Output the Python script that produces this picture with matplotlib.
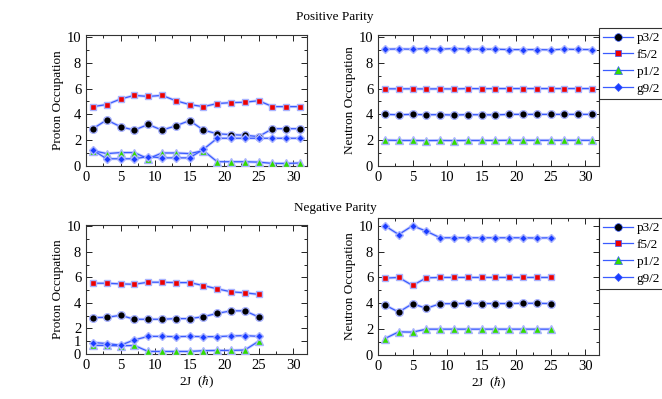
import matplotlib
matplotlib.use("Agg")
import matplotlib.pyplot as plt
from matplotlib.ticker import MultipleLocator
from matplotlib.lines import Line2D

plt.rcParams['font.family'] = ['Liberation Serif', 'DejaVu Serif']
plt.rcParams['mathtext.fontset'] = 'stix'

# ---- data ----
x_pos = [1, 3, 5, 7, 9, 11, 13, 15, 17, 19, 21, 23, 25, 27, 29, 31]
x_neg = [1, 3, 5, 7, 9, 11, 13, 15, 17, 19, 21, 23, 25]
labels = ['p3/2', 'f5/2', 'p1/2', 'g9/2']

pos_prot_p32 = [2.89, 3.57, 3.04, 2.78, 3.22, 2.78, 3.11, 3.52, 2.78, 2.50, 2.43, 2.38, 2.28, 2.89, 2.89, 2.89]
pos_prot_f52 = [4.60, 4.76, 5.19, 5.47, 5.39, 5.47, 5.06, 4.76, 4.60, 4.84, 4.91, 4.94, 5.06, 4.60, 4.60, 4.60]
pos_prot_p12 = [1.19, 0.96, 1.04, 1.04, 0.56, 1.01, 1.01, 0.96, 1.19, 0.33, 0.33, 0.33, 0.30, 0.20, 0.20, 0.23]
pos_prot_g92 = [1.22, 0.56, 0.56, 0.56, 0.73, 0.63, 0.63, 0.63, 1.29, 2.15, 2.15, 2.15, 2.15, 2.15, 2.15, 2.15]

pos_neut_p32 = [4.00, 3.97, 4.00, 3.97, 3.98, 3.95, 3.98, 3.97, 3.96, 4.00, 4.00, 4.00, 4.00, 4.00, 4.00, 4.00]
pos_neut_f52 = [5.98, 5.98, 5.98, 5.97, 5.98, 5.97, 6.00, 5.99, 6.00, 6.00, 6.00, 6.00, 6.00, 6.00, 6.00, 6.00]
pos_neut_p12 = [2.00, 1.98, 1.98, 1.97, 1.98, 1.97, 1.98, 1.98, 1.98, 1.99, 1.99, 1.99, 1.99, 1.99, 1.99, 1.99]
pos_neut_g92 = [9.05, 9.07, 9.05, 9.10, 9.05, 9.10, 9.05, 9.05, 9.05, 9.02, 9.02, 9.02, 9.00, 9.05, 9.03, 9.02]

neg_prot_p32 = [2.85, 2.87, 3.03, 2.72, 2.72, 2.72, 2.77, 2.77, 2.92, 3.18, 3.38, 3.38, 2.90]
neg_prot_f52 = [5.54, 5.54, 5.49, 5.46, 5.62, 5.62, 5.59, 5.59, 5.36, 5.10, 4.87, 4.79, 4.67]
neg_prot_p12 = [0.67, 0.67, 0.64, 0.67, 0.20, 0.20, 0.20, 0.20, 0.26, 0.28, 0.28, 0.31, 1.00]
neg_prot_g92 = [0.90, 0.82, 0.69, 1.10, 1.38, 1.38, 1.36, 1.38, 1.36, 1.36, 1.41, 1.44, 1.38]

neg_neut_p32 = [3.87, 3.32, 3.97, 3.61, 3.97, 3.97, 4.00, 3.98, 3.98, 3.98, 4.00, 4.00, 3.98]
neg_neut_f52 = [5.95, 6.00, 5.38, 5.97, 6.00, 6.00, 6.00, 6.00, 6.00, 6.00, 6.00, 6.00, 6.00]
neg_neut_p12 = [1.27, 1.79, 1.77, 2.00, 2.00, 2.00, 2.00, 2.00, 2.00, 2.00, 2.00, 2.00, 2.00]
neg_neut_g92 = [10.00, 9.32, 10.00, 9.58, 9.07, 9.07, 9.07, 9.07, 9.07, 9.07, 9.07, 9.05, 9.07]

# ---- styles ----
LINE = '#3a5cff'
HALO = '#a9b3ff'
marker_styles = [
    dict(marker='o', markerfacecolor='black', ms=5.5),
    dict(marker='s', markerfacecolor='#ee0000', ms=5.0),
    dict(marker='^', markerfacecolor='#33dd00', ms=5.5),
    dict(marker='D', markerfacecolor='#1a3cff', ms=4.5),
]

fig = plt.figure(figsize=(6.62, 3.99), dpi=100)

W, H = 662, 399
def ax_at(l, r, t, b):
    return fig.add_axes([l / W, 1 - b / H, (r - l) / W, (b - t) / H])

ax_tl = ax_at(86, 307, 35, 166)
ax_tr = ax_at(378, 599, 35, 166)
ax_bl = ax_at(86, 307, 225, 354)
ax_br = ax_at(378, 599, 218, 355)

panels = [
    (ax_tl, x_pos, [pos_prot_p32, pos_prot_f52, pos_prot_p12, pos_prot_g92], 'Proton Occupation', 10.15),
    (ax_tr, x_pos, [pos_neut_p32, pos_neut_f52, pos_neut_p12, pos_neut_g92], 'Neutron Occupation', 10.15),
    (ax_bl, x_neg, [neg_prot_p32, neg_prot_f52, neg_prot_p12, neg_prot_g92], 'Proton Occupation', 10.1),
    (ax_br, x_neg, [neg_neut_p32, neg_neut_f52, neg_neut_p12, neg_neut_g92], 'Neutron Occupation', 10.6),
]

FS = 9
for ax, xs, series, ylab, ytop in panels:
    for ys, st, lab in zip(series, marker_styles, labels):
        ax.plot(xs, ys, color=HALO, lw=2.2, alpha=0.6, zorder=2)
        ax.plot(xs, ys, color=LINE, lw=0.9, markeredgecolor=HALO,
                markeredgewidth=1.0, label=lab, zorder=3, **st)
    ax.set_xlim(0, 32)
    ax.set_ylim(0, ytop)
    ax.xaxis.set_major_locator(MultipleLocator(5))
    ax.xaxis.set_minor_locator(MultipleLocator(2.5))
    ax.yaxis.set_minor_locator(MultipleLocator(1))
    ax.tick_params(which='both', direction='in', top=True, right=True, labelsize=FS + 1.5)
    ax.tick_params(which='major', length=4, width=0.6)
    ax.tick_params(which='minor', length=2, width=0.6)
    ax.set_ylabel(ylab, fontsize=FS + 0.5, labelpad=2)
    for s in ax.spines.values():
        s.set_linewidth(0.8)
        s.set_color('#333333')

ax_tl.set_yticks([0, 2, 4, 6, 8, 10])
ax_tr.set_yticks([0, 2, 4, 6, 8, 10])
ax_bl.set_yticks([0, 1, 2, 4, 6, 8, 10])
ax_br.set_yticks([0, 2, 4, 6, 8, 10])

for ax in (ax_bl, ax_br):
    ax.set_xlabel(r'2J  ($\hbar$)', fontsize=FS + 0.5, labelpad=1)

def legend_handles():
    hs = []
    for st, lab in zip(marker_styles, labels):
        hs.append(Line2D([], [], color=LINE, lw=0.9, markeredgecolor=LINE,
                         markeredgewidth=0.5, label=lab, **st))
    return hs

for top in (28, 218):
    leg = fig.legend(handles=legend_handles(), loc='upper left',
                     bbox_to_anchor=(599 / W, 1 - top / H), fontsize=FS + 0.5,
                     frameon=True, fancybox=False, borderpad=0.3,
                     labelspacing=0.35, handlelength=2.3, handletextpad=0.25,
                     borderaxespad=0)
    leg.get_frame().set_edgecolor('black')
    leg.get_frame().set_linewidth(0.8)

fig.text(335 / W, 1 - 17 / H, 'Positive Parity', ha='center', va='center', fontsize=FS + 0.5)
fig.text(335 / W, 1 - 208 / H, 'Negative Parity', ha='center', va='center', fontsize=FS + 0.5)

fig.savefig('out.png', dpi=100)
